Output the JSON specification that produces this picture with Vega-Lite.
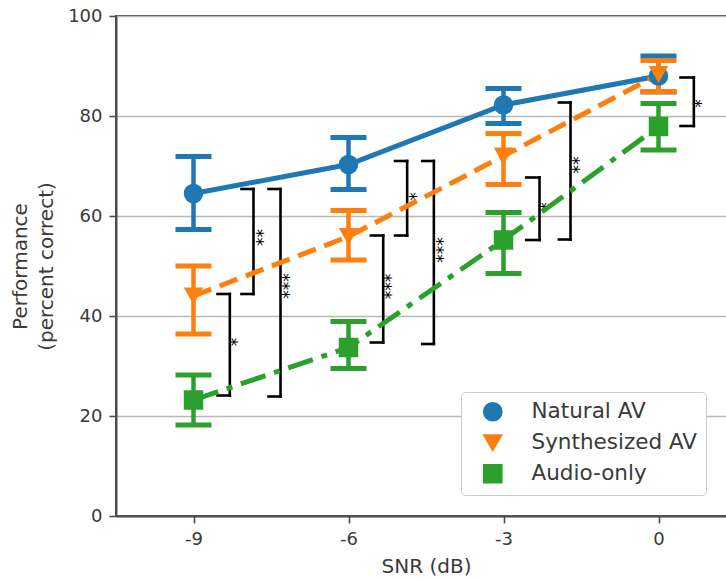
{
  "$schema": "https://vega.github.io/schema/vega-lite/v6.json",
  "width": 620,
  "height": 500,
  "autosize": {"type": "none"},
  "padding": {"left": 116, "top": 16, "right": 0, "bottom": 64},
  "background": "white",
  "config": {
    "font": "DejaVu Sans",
    "view": {"stroke": "#4d4d4d", "strokeWidth": 2},
    "axis": {
      "domainColor": "#4d4d4d",
      "domainWidth": 2,
      "tickColor": "#4d4d4d",
      "tickWidth": 1.6,
      "tickSize": 7,
      "labelFont": "DejaVu Sans",
      "labelFontSize": 18,
      "labelColor": "#3a3a3a",
      "labelPadding": 7,
      "titleFont": "DejaVu Sans",
      "titleFontSize": 20,
      "titleFontWeight": "normal",
      "titleColor": "#3a3a3a",
      "gridColor": "#b8b8b8",
      "gridWidth": 1.6
    },
    "legend": {
      "labelFont": "DejaVu Sans",
      "labelFontSize": 21.5,
      "labelColor": "#3a3a3a",
      "labelLimit": 400
    }
  },
  "datasets": {
    "perf": [
      {"snr": -9, "cond": "Natural AV", "mean": 64.5, "lo": 57.3, "hi": 71.9},
      {"snr": -6, "cond": "Natural AV", "mean": 70.3, "lo": 65.3, "hi": 75.7},
      {"snr": -3, "cond": "Natural AV", "mean": 82.2, "lo": 78.5, "hi": 85.5},
      {"snr": 0, "cond": "Natural AV", "mean": 88.0, "lo": 84.8, "hi": 92.0},
      {"snr": -9, "cond": "Synthesized AV", "mean": 44.0, "lo": 36.4, "hi": 50.0},
      {"snr": -6, "cond": "Synthesized AV", "mean": 55.9, "lo": 51.2, "hi": 61.1},
      {"snr": -3, "cond": "Synthesized AV", "mean": 72.0, "lo": 66.3, "hi": 76.5},
      {"snr": 0, "cond": "Synthesized AV", "mean": 88.3, "lo": 84.9, "hi": 91.1},
      {"snr": -9, "cond": "Audio-only", "mean": 23.2, "lo": 18.2, "hi": 28.2},
      {"snr": -6, "cond": "Audio-only", "mean": 33.7, "lo": 29.5, "hi": 38.9},
      {"snr": -3, "cond": "Audio-only", "mean": 55.2, "lo": 48.5, "hi": 60.7},
      {"snr": 0, "cond": "Audio-only", "mean": 77.9, "lo": 73.2, "hi": 82.5}
    ],
    "brackets": [
      {"x": -7.839, "xl": -8.072, "top": 65.4, "bot": 44.4, "stars": "**", "tx": -7.80, "ty": 55.7},
      {"x": -7.316, "xl": -7.548, "top": 65.4, "bot": 23.9, "stars": "***", "tx": -7.28, "ty": 46.0},
      {"x": -8.297, "xl": -8.535, "top": 44.4, "bot": 24.1, "stars": "*", "tx": -8.30, "ty": 34.8},
      {"x": -4.865, "xl": -5.100, "top": 71.0, "bot": 56.1, "stars": "*", "tx": -4.83, "ty": 63.9},
      {"x": -4.348, "xl": -4.573, "top": 71.0, "bot": 34.4, "stars": "***", "tx": -4.30, "ty": 53.2},
      {"x": -5.328, "xl": -5.567, "top": 56.1, "bot": 34.7, "stars": "***", "tx": -5.31, "ty": 45.9},
      {"x": -2.303, "xl": -2.561, "top": 67.7, "bot": 55.2, "stars": "*", "tx": -2.30, "ty": 61.9},
      {"x": -1.703, "xl": -1.928, "top": 82.7, "bot": 55.3, "stars": "**", "tx": -1.67, "ty": 70.2},
      {"x": 0.684, "xl": 0.426, "top": 87.7, "bot": 78.0, "stars": "*", "tx": 0.68, "ty": 82.5}
    ]
  },
  "layer": [
    {
      "data": {"name": "perf"},
      "mark": {"type": "line", "strokeWidth": 0, "opacity": 0},
      "encoding": {
        "x": {"field": "snr", "type": "quantitative", "scale": {"domain": [-10.5, 1.5], "nice": false, "zero": false},
              "axis": {"title": "SNR (dB)", "values": [-9, -6, -3, 0], "grid": false, "labelExpr": "datum.value + ''", "titlePadding": 8}},
        "y": {"field": "mean", "type": "quantitative", "scale": {"domain": [0, 100], "nice": false},
              "axis": {"title": ["Performance", "(percent correct)"], "values": [0, 20, 40, 60, 80, 100], "grid": true,
                       "titleAngle": -90, "titleAlign": "center", "titleBaseline": "alphabetic", "titleX": -90, "titleY": 250, "titleLineHeight": 26}},
        "detail": {"field": "cond"}
      }
    },
    {
      "data": {"name": "brackets"},
      "mark": {"type": "rule", "color": "black", "strokeWidth": 2.6, "strokeCap": "square"},
      "encoding": {
        "x": {"field": "x", "type": "quantitative"},
        "y": {"field": "top", "type": "quantitative"},
        "y2": {"field": "bot"}
      }
    },
    {
      "data": {"name": "brackets"},
      "mark": {"type": "rule", "color": "black", "strokeWidth": 2.6, "strokeCap": "square"},
      "encoding": {
        "x": {"field": "xl", "type": "quantitative"},
        "x2": {"field": "x"},
        "y": {"field": "top", "type": "quantitative"}
      }
    },
    {
      "data": {"name": "brackets"},
      "mark": {"type": "rule", "color": "black", "strokeWidth": 2.6, "strokeCap": "square"},
      "encoding": {
        "x": {"field": "xl", "type": "quantitative"},
        "x2": {"field": "x"},
        "y": {"field": "bot", "type": "quantitative"}
      }
    },
    {
      "data": {"name": "brackets"},
      "mark": {"type": "text", "color": "black", "fontSize": 17, "font": "DejaVu Sans", "angle": 90, "align": "center", "baseline": "middle"},
      "encoding": {
        "x": {"field": "tx", "type": "quantitative"},
        "y": {"field": "ty", "type": "quantitative"},
        "text": {"field": "stars"}
      }
    },
    {
      "data": {"name": "perf"},
      "transform": [{"filter": "datum.cond === 'Natural AV'"}],
      "mark": {"type": "line", "color": "#1f77b4", "strokeWidth": 5},
      "encoding": {
        "x": {"field": "snr", "type": "quantitative"},
        "y": {"field": "mean", "type": "quantitative"}
      }
    },
    {
      "data": {"name": "perf"},
      "transform": [{"filter": "datum.cond === 'Synthesized AV'"}],
      "mark": {"type": "line", "color": "#ff7f0e", "strokeWidth": 5, "strokeDash": [19, 9]},
      "encoding": {
        "x": {"field": "snr", "type": "quantitative"},
        "y": {"field": "mean", "type": "quantitative"}
      }
    },
    {
      "data": {"name": "perf"},
      "transform": [{"filter": "datum.cond === 'Audio-only'"}],
      "mark": {"type": "line", "color": "#2ca02c", "strokeWidth": 5, "strokeDash": [26, 9, 6, 9]},
      "encoding": {
        "x": {"field": "snr", "type": "quantitative"},
        "y": {"field": "mean", "type": "quantitative"}
      }
    },
    {
      "data": {"name": "perf"},
      "mark": {"type": "rule", "strokeWidth": 4.5},
      "encoding": {
        "x": {"field": "snr", "type": "quantitative"},
        "y": {"field": "lo", "type": "quantitative"},
        "y2": {"field": "hi"},
        "color": {"field": "cond", "type": "nominal"}
      }
    },
    {
      "data": {"name": "perf"},
      "mark": {"type": "tick", "orient": "horizontal", "size": 36, "thickness": 5, "opacity": 1},
      "encoding": {
        "x": {"field": "snr", "type": "quantitative"},
        "y": {"field": "lo", "type": "quantitative"},
        "color": {"field": "cond", "type": "nominal"}
      }
    },
    {
      "data": {"name": "perf"},
      "mark": {"type": "tick", "orient": "horizontal", "size": 36, "thickness": 5, "opacity": 1},
      "encoding": {
        "x": {"field": "snr", "type": "quantitative"},
        "y": {"field": "hi", "type": "quantitative"},
        "color": {"field": "cond", "type": "nominal"}
      }
    },
    {
      "data": {"name": "perf"},
      "mark": {"type": "point", "filled": true, "opacity": 1, "size": 380},
      "encoding": {
        "x": {"field": "snr", "type": "quantitative"},
        "y": {"field": "mean", "type": "quantitative"},
        "color": {"field": "cond", "type": "nominal",
                  "scale": {"domain": ["Natural AV", "Synthesized AV", "Audio-only"], "range": ["#1f77b4", "#ff7f0e", "#2ca02c"]},
                  "legend": {"title": null, "orient": "none", "legendX": 345, "legendY": 376,
                             "padding": 9, "symbolOffset": 12, "labelOffset": 28, "rowPadding": 7,
                             "symbolSize": 330, "strokeColor": "#cccccc", "cornerRadius": 4, "fillColor": "white"}},
        "shape": {"field": "cond", "type": "nominal",
                  "scale": {"domain": ["Natural AV", "Synthesized AV", "Audio-only"], "range": ["circle", "triangle-down", "square"]},
                  "legend": {"title": null, "orient": "none", "legendX": 345, "legendY": 376,
                             "padding": 9, "symbolOffset": 12, "labelOffset": 28, "rowPadding": 7,
                             "symbolSize": 330, "strokeColor": "#cccccc", "cornerRadius": 4, "fillColor": "white"}}
      }
    }
  ]
}
